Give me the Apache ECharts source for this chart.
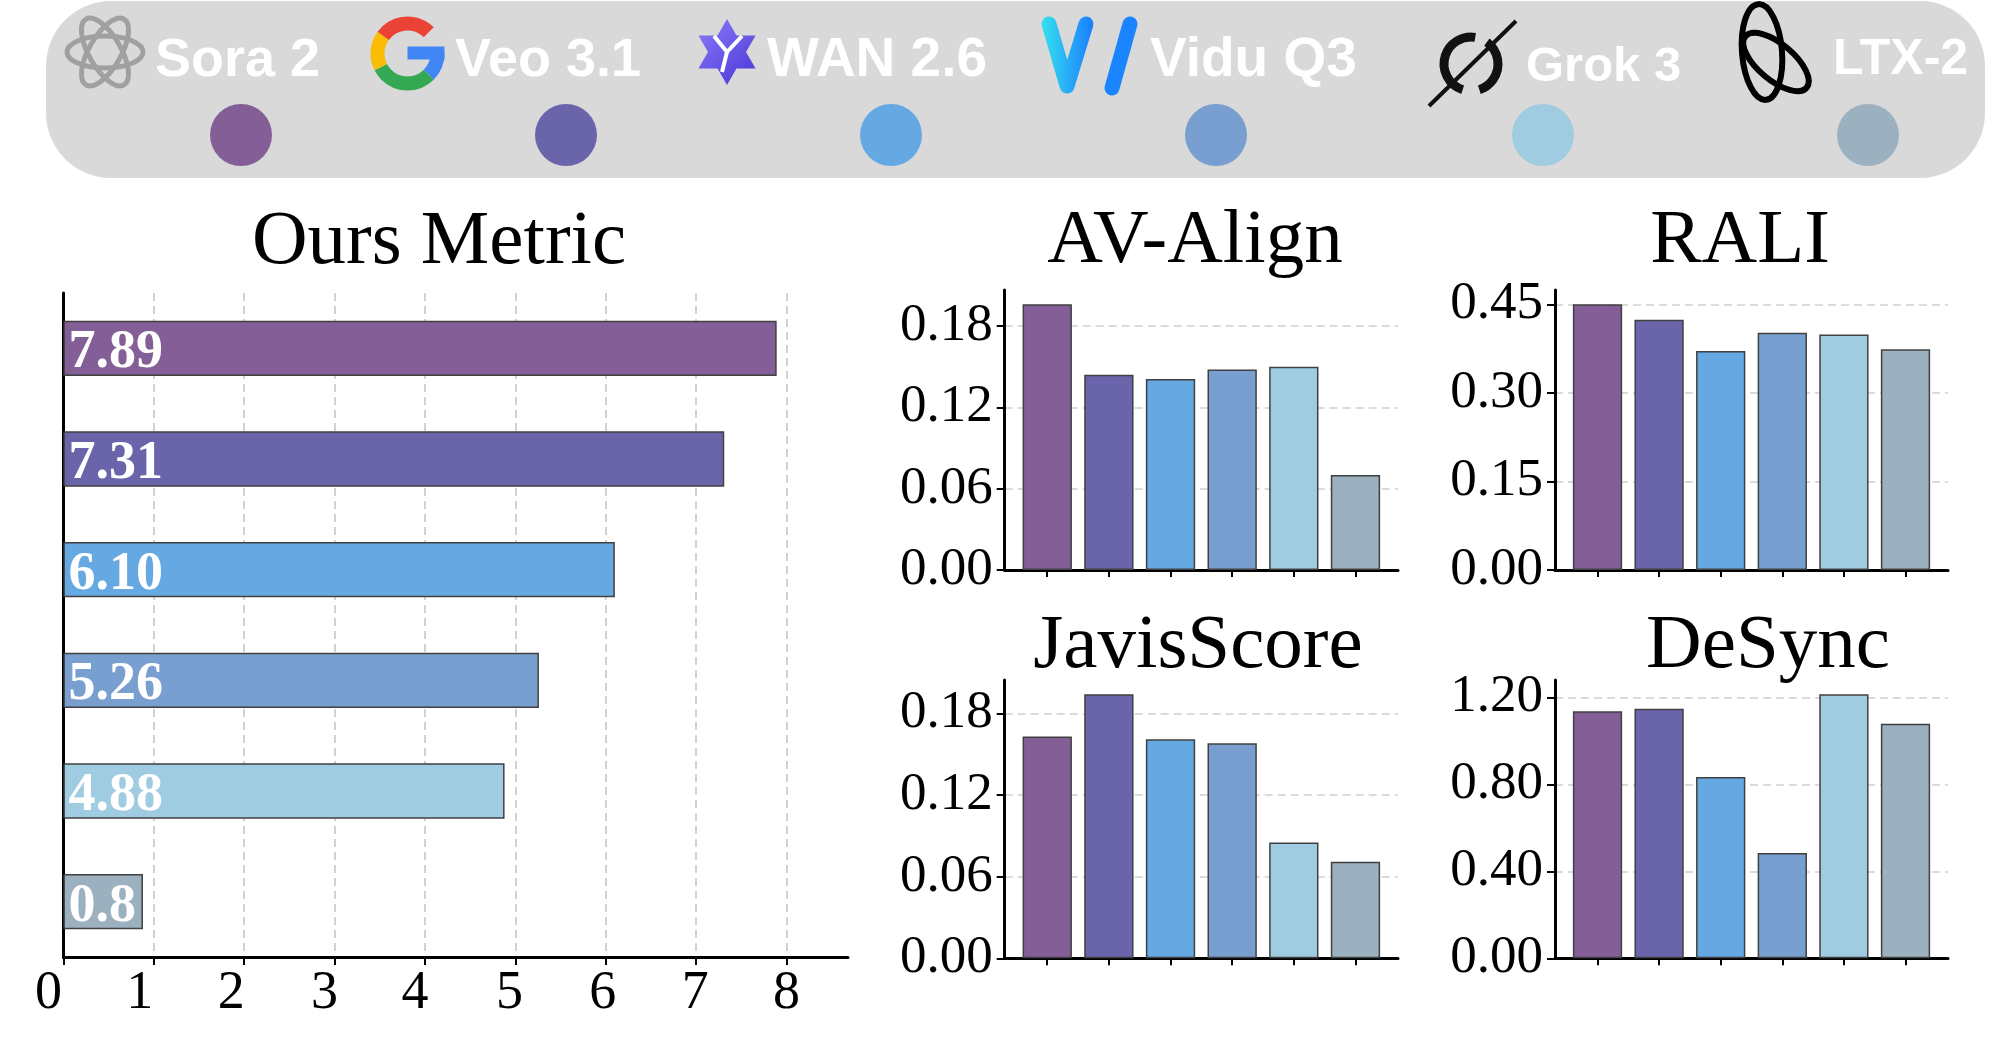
<!DOCTYPE html>
<html><head><meta charset="utf-8">
<script src="https://cdn.jsdelivr.net/npm/echarts@6/dist/echarts.min.js"></script>
<style>html,body{margin:0;padding:0;background:#fff}#c{width:2013px;height:1056px}</style>
</head><body><div id="c"></div>
<script>
// ---------- data ----------
const models = ['Sora 2', 'Veo 3.1', 'WAN 2.6', 'Vidu Q3', 'Grok 3', 'LTX-2'];
const colors = ['#845E97', '#6A64AB', '#66A8E2', '#799ED0', '#9FCCE0', '#9CB1BF'];
const slots = [0, 1, 2, 3, 4, 5];

const oursMetric = [7.89, 7.31, 6.10, 5.26, 4.88, 0.88];
const oursMetricLabels = ['7.89', '7.31', '6.10', '5.26', '4.88', '0.8'];
const oursTicks = [0, 1, 2, 3, 4, 5, 6, 7, 8];

const avAlign = [0.196, 0.144, 0.141, 0.148, 0.150, 0.070];
const avTicks = [0, 0.06, 0.12, 0.18];
const rali = [0.450, 0.424, 0.371, 0.402, 0.399, 0.374];
const raliTicks = [0, 0.15, 0.30, 0.45];
const javis = [0.163, 0.194, 0.161, 0.158, 0.085, 0.071];
const javisTicks = [0, 0.06, 0.12, 0.18];
const desync = [1.137, 1.148, 0.834, 0.484, 1.215, 1.079];
const desyncTicks = [0, 0.40, 0.80, 1.20];

const titles = ['Ours Metric', 'AV-Align', 'RALI', 'JavisScore', 'DeSync'];

// ---------- layout / style ----------
const SERIF = '"Liberation Serif", "Times New Roman", serif';
const SANS = '"Liberation Sans", Arial, sans-serif';
const grids = [
  {left: 63.4, top: 293, width: 784.6, height: 664},
  {left: 1004.7, top: 290, width: 393.3, height: 280},
  {left: 1555, top: 290, width: 393, height: 280},
  {left: 1004.7, top: 680, width: 393.3, height: 278.3},
  {left: 1555, top: 680, width: 393, height: 278.3}
];
const titlePos = [[439, 243], [1195, 242], [1740, 242], [1198, 647], [1768, 647]];
const legendPos = [
  {tx: 155, ty: 61, fs: 54, dx: 241},
  {tx: 455, ty: 61, fs: 54, dx: 566},
  {tx: 767, ty: 61, fs: 55, dx: 891},
  {tx: 1150, ty: 61, fs: 55, dx: 1216},
  {tx: 1526, ty: 67, fs: 49, dx: 1543},
  {tx: 1833, ty: 60, fs: 50, dx: 1868}
];
// horizontal nudges (px, leftwards) of the left-panel tick labels, as seen in the reference
const tickLabelShift = [15, 14, 13, 10, 10, 6, 3, 1, 0];

const small = [
  {vals: avAlign, ticks: avTicks},
  {vals: rali, ticks: raliTicks},
  {vals: javis, ticks: javisTicks},
  {vals: desync, ticks: desyncTicks}
];

const axisLineStyle = {color: '#000', width: 3};
const gridLineStyle = {type: [8, 5], color: '#cfcfcf', width: 1.5};

const xRich = {};
tickLabelShift.forEach((s, i) => {
  xRich['s' + i] = {fontFamily: SERIF, fontSize: 54, color: '#000', padding: [0, 2 * s, 0, 0]};
});

const xAxes = [{
  type: 'value', gridIndex: 0, min: 0, max: e => e.max * 1.1, interval: 1,
  axisLine: {show: true, onZero: false, lineStyle: axisLineStyle},
  axisTick: {show: true, customValues: oursTicks, length: 8, lineStyle: {color: '#000', width: 2}},
  axisLabel: {customValues: oursTicks, fontFamily: SERIF, fontSize: 54, color: '#000', margin: 10,
    formatter: v => {
      const i = oursTicks.indexOf(Math.round(v));
      return '{s' + (i < 0 ? 0 : i) + '|' + Math.round(v) + '}';
    },
    rich: xRich},
  splitLine: {show: true, showMinLine: false, lineStyle: {type: [8, 5], color: '#c4c4c4', width: 1.5}}
}];
const yAxes = [{
  type: 'category', gridIndex: 0, inverse: true, data: models,
  axisLine: {show: true, onZero: false, lineStyle: axisLineStyle},
  axisTick: {show: false}, axisLabel: {show: false}, splitLine: {show: false}
}];
const series = [{
  type: 'bar', xAxisIndex: 0, yAxisIndex: 0, barWidth: '50%',
  data: oursMetric.map((v, i) => ({value: v, itemStyle: {color: colors[i]}})),
  itemStyle: {borderColor: '#404040', borderWidth: 1.5},
  label: {
    show: true, position: 'insideLeft', distance: 5, offset: [0, 5],
    formatter: p => oursMetricLabels[p.dataIndex],
    color: '#fff', fontFamily: SERIF, fontWeight: 'bold', fontSize: 54
  }
}];

small.forEach((s, k) => {
  const gi = k + 1;
  const interval = s.ticks[1] - s.ticks[0];
  xAxes.push({
    type: 'value', gridIndex: gi, min: -0.69, max: 5.69,
    axisLine: {show: true, onZero: false, lineStyle: axisLineStyle},
    axisTick: {show: true, customValues: slots, length: 7, lineStyle: {color: '#000', width: 2}},
    axisLabel: {show: false}, splitLine: {show: false}
  });
  yAxes.push({
    type: 'value', gridIndex: gi, min: 0, max: e => e.max * 1.054, interval: interval,
    axisLine: {show: true, onZero: false, lineStyle: axisLineStyle},
    axisTick: {show: true, customValues: s.ticks, length: 8, lineStyle: {color: '#000', width: 2}},
    axisLabel: {customValues: s.ticks, formatter: v => v.toFixed(2),
      fontFamily: SERIF, fontSize: 53, color: '#000', margin: 12},
    splitLine: {show: true, showMinLine: false, lineStyle: gridLineStyle}
  });
  series.push({
    type: 'bar', xAxisIndex: gi, yAxisIndex: gi, barWidth: '80%',
    data: s.vals.map((v, i) => ({value: [slots[i], v], itemStyle: {color: colors[i]}})),
    itemStyle: {borderColor: '#404040', borderWidth: 1.5}
  });
});

// ---------- graphic: legend panel, icons, titles ----------
const g = [];
g.push({type: 'rect', z: 0, shape: {x: 46, y: 1, width: 1939, height: 177, r: 65}, style: {fill: '#d9d9d9'}});

// OpenAI-like knot
[0, Math.PI / 3, 2 * Math.PI / 3].forEach(r => g.push({
  type: 'ellipse', z: 1, x: 105, y: 52, rotation: r,
  shape: {cx: 0, cy: 0, rx: 38, ry: 16}, style: {fill: 'none', stroke: '#a0a0a0', lineWidth: 5}
}));
// Google G
const G = {cx: 407.5, cy: 53.5, r: 30};
[[0, 0.25 * Math.PI, '#4285F4'], [0.25 * Math.PI, 0.85 * Math.PI, '#34A853'],
 [0.85 * Math.PI, 1.2 * Math.PI, '#FBBC05'], [1.2 * Math.PI, 1.75 * Math.PI, '#EA4335']].forEach(a => g.push({
  type: 'arc', z: 1, shape: {cx: G.cx, cy: G.cy, r: G.r, startAngle: a[0], endAngle: a[1], clockwise: true},
  style: {fill: 'none', stroke: a[2], lineWidth: 14}
}));
g.push({type: 'rect', z: 1, shape: {x: G.cx, y: G.cy - 7, width: 37, height: 13}, style: {fill: '#4285F4'}});
// WAN-like star
(function () {
  const pts = [];
  for (let i = 0; i < 12; i++) {
    const ang = -Math.PI / 2 + i * Math.PI / 6;
    const rr = i % 2 === 0 ? 33 : 19;
    pts.push([727 + rr * Math.cos(ang), 52 + rr * Math.sin(ang)]);
  }
  g.push({type: 'polygon', z: 1, shape: {points: pts},
    style: {fill: new echarts.graphic.LinearGradient(0, 0, 1, 1, [{offset: 0, color: '#8a7cf8'}, {offset: 1, color: '#4a35d6'}])}});
  g.push({type: 'polyline', z: 2, shape: {points: [[714, 36], [727, 52], [742, 36]]}, style: {stroke: '#fff', lineWidth: 4, fill: 'none'}});
  g.push({type: 'line', z: 2, shape: {x1: 727, y1: 52, x2: 722, y2: 72}, style: {stroke: '#fff', lineWidth: 4}});
})();
// Vidu-like V
const viduGrad = new echarts.graphic.LinearGradient(0, 0, 1, 0, [{offset: 0, color: '#35e0ee'}, {offset: 1, color: '#1a7dff'}]);
g.push({type: 'polyline', z: 1, shape: {points: [[1049, 24], [1067, 86], [1086, 24]]},
  style: {stroke: viduGrad, lineWidth: 15, fill: 'none', lineCap: 'round', lineJoin: 'round'}});
g.push({type: 'polyline', z: 1, shape: {points: [[1130, 24], [1112, 88]]},
  style: {stroke: '#1a85ff', lineWidth: 15, fill: 'none', lineCap: 'round'}});
// Grok-like slashed circle
g.push({type: 'arc', z: 1, shape: {cx: 1471, cy: 64, r: 27, startAngle: 0.6 * Math.PI, endAngle: 1.55 * Math.PI, clockwise: true},
  style: {fill: 'none', stroke: '#111', lineWidth: 9}});
g.push({type: 'arc', z: 1, shape: {cx: 1471, cy: 64, r: 27, startAngle: -0.3 * Math.PI, endAngle: 0.4 * Math.PI, clockwise: true},
  style: {fill: 'none', stroke: '#111', lineWidth: 9}});
g.push({type: 'line', z: 1, shape: {x1: 1429, y1: 106, x2: 1516, y2: 21}, style: {stroke: '#111', lineWidth: 4}});
// LTX-like loops
g.push({type: 'ellipse', z: 1, x: 1762, y: 52, rotation: 0.08, shape: {cx: 0, cy: 0, rx: 20, ry: 48},
  style: {fill: 'none', stroke: '#000', lineWidth: 6}});
g.push({type: 'ellipse', z: 1, x: 1776, y: 62, rotation: -0.7, shape: {cx: 0, cy: 0, rx: 40, ry: 18},
  style: {fill: 'none', stroke: '#000', lineWidth: 6}});

// legend names and dots
models.forEach((m, i) => {
  const L = legendPos[i];
  g.push({type: 'text', z: 3, x: L.tx, y: L.ty,
    style: {text: m, fill: '#fff', font: 'bold ' + L.fs + 'px ' + SANS,
      textAlign: 'left', align: 'left', textVerticalAlign: 'middle', verticalAlign: 'middle'}});
  g.push({type: 'circle', z: 3, shape: {cx: L.dx, cy: 135, r: 31}, style: {fill: colors[i]}});
});

// panel titles
titles.forEach((t, i) => g.push({
  type: 'text', z: 3, x: titlePos[i][0], y: titlePos[i][1],
  style: {text: t, fill: '#000', font: '77px ' + SERIF,
    textAlign: 'center', align: 'center', textVerticalAlign: 'middle', verticalAlign: 'middle'}
}));

const chart = echarts.init(document.getElementById('c'), null, {renderer: 'canvas'});
chart.setOption({
  backgroundColor: '#fff',
  animation: false,
  grid: grids,
  xAxis: xAxes,
  yAxis: yAxes,
  series: series,
  graphic: g
});
</script>
</body></html>
